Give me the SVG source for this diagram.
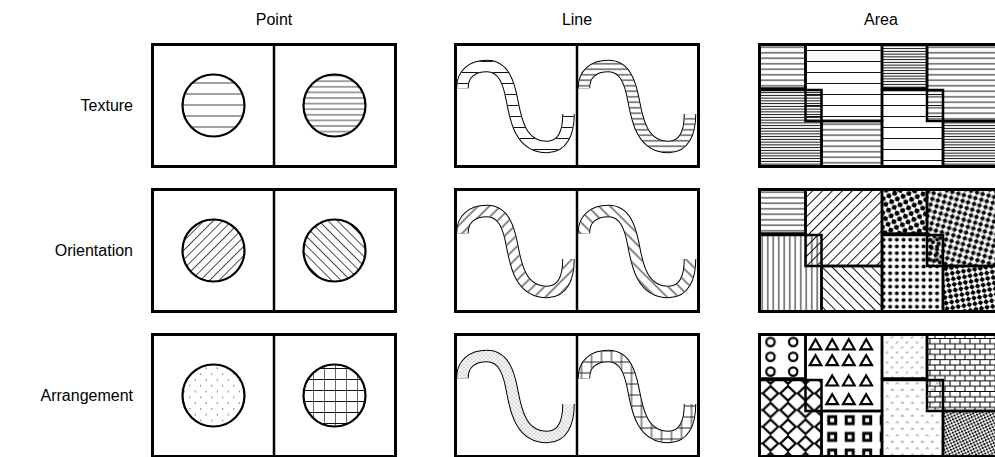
<svg xmlns="http://www.w3.org/2000/svg" width="995" height="457" viewBox="0 0 995 457">
<style>
.lbl{font-family:"Liberation Sans",Arial,Helvetica,sans-serif;font-size:16px;fill:#000}
.col{text-anchor:middle}
.row{text-anchor:end}
.frame{fill:none;stroke:#000;stroke-width:3}
.sep{stroke:#000;stroke-width:2.5}
.pt{stroke:#000;stroke-width:2.2}
.cell{stroke:#000;stroke-width:2.5}
.ro{fill:none;stroke:#000;stroke-width:12.5}
.rw{fill:none;stroke:#fff;stroke-width:10.5}
.rp{fill:none;stroke-width:10.5}
.ln{stroke:#111;stroke-width:1;fill:none}
.lg{stroke:#444;stroke-width:1;fill:none}
</style>
<defs>
<path id="wave" d="M7.5 44C7 29.5 17 21.5 32 21.5C49 21.5 54 39.5 57 55.5C60.5 74 65 102.5 92 102.5C107 102.5 113.5 89 113.5 69.5"/>
<path id="tri" d="M0 -5L5.8 5H-5.8Z" fill="none" stroke="#000" stroke-width="2.2"/>
<pattern id="h11" width="10" height="11" y="0.5" patternUnits="userSpaceOnUse"><path class="ln" d="M0 5.5H10"/></pattern>
<pattern id="h5" width="10" height="5.5" patternUnits="userSpaceOnUse"><path class="ln" d="M0 2.75H10"/></pattern>
<pattern id="h3" width="10" height="2.75" patternUnits="userSpaceOnUse"><path class="ln" d="M0 1.375H10"/></pattern>
<pattern id="h11g" width="10" height="11" y="0.5" patternUnits="userSpaceOnUse"><path class="lg" d="M0 5.5H10"/></pattern>
<pattern id="h5g" width="10" height="5.6" patternUnits="userSpaceOnUse"><path class="lg" d="M0 2.8H10"/></pattern>
<pattern id="v5" width="5.5" height="10" patternUnits="userSpaceOnUse"><path class="ln" d="M2.75 0V10"/></pattern>
<pattern id="dR" width="7" height="7" patternUnits="userSpaceOnUse" patternTransform="rotate(45)"><path class="ln" d="M3.5 0V7"/></pattern>
<pattern id="dL" width="7" height="7" patternUnits="userSpaceOnUse" patternTransform="rotate(-45)"><path class="ln" d="M3.5 0V7"/></pattern>
<pattern id="dRp" width="6.6" height="6.6" patternUnits="userSpaceOnUse" patternTransform="rotate(45)"><path class="lg" d="M3.3 0V6.6"/></pattern>
<pattern id="dLp" width="6.6" height="6.6" patternUnits="userSpaceOnUse" patternTransform="rotate(-45)"><path class="lg" d="M3.3 0V6.6"/></pattern>
<pattern id="dRl" width="8" height="8" patternUnits="userSpaceOnUse" patternTransform="rotate(45)"><path class="ln" d="M4 0V8"/></pattern>
<pattern id="dLl" width="8" height="8" patternUnits="userSpaceOnUse" patternTransform="rotate(-45)"><path class="ln" d="M4 0V8"/></pattern>
<pattern id="dotP" width="11" height="11.6" patternUnits="userSpaceOnUse"><circle cx="2.75" cy="2.9" r="0.7" fill="#555"/><circle cx="8.25" cy="8.7" r="0.7" fill="#555"/></pattern>
<pattern id="dotL" width="4" height="4" patternUnits="userSpaceOnUse"><circle cx="1" cy="1" r="0.55" fill="#333"/><circle cx="3" cy="3" r="0.55" fill="#333"/></pattern>
<pattern id="gridP" width="11" height="11" patternUnits="userSpaceOnUse"><path d="M5.5 0V11" stroke="#555" stroke-width="0.9"/><path d="M0 5.5H11" stroke="#111" stroke-width="1"/></pattern>
<pattern id="gridL" width="10" height="11" patternUnits="userSpaceOnUse"><path d="M0 5.5H10M5 0V11" stroke="#111" stroke-width="0.9" fill="none"/></pattern>
<pattern id="dotsE" width="9" height="9" patternUnits="userSpaceOnUse" patternTransform="rotate(20)"><circle cx="2.25" cy="2.25" r="2.5"/><circle cx="6.75" cy="6.75" r="2.5"/></pattern>
<pattern id="dotsF" width="8.4" height="8.4" patternUnits="userSpaceOnUse" patternTransform="rotate(-30)"><circle cx="2.1" cy="2.1" r="2.4" stroke="#999" stroke-width="1"/><circle cx="6.3" cy="6.3" r="2.4" stroke="#999" stroke-width="1"/></pattern>
<pattern id="dotsG" width="6.7" height="6.7" patternUnits="userSpaceOnUse"><circle cx="3.35" cy="3.35" r="2"/></pattern>
<pattern id="dotsH" width="8" height="8" patternUnits="userSpaceOnUse" patternTransform="rotate(35)"><circle cx="2" cy="2" r="2.3"/><circle cx="6" cy="6" r="2.3"/></pattern>
<pattern id="circA" width="22.7" height="14.8" patternUnits="userSpaceOnUse"><circle cx="11" cy="7.5" r="4.2" fill="none" stroke="#000" stroke-width="2.2"/></pattern>
<pattern id="diamC" x="2.25" y="0.4" width="17.5" height="16.7" patternUnits="userSpaceOnUse"><path d="M8.75 1.1L16.4 8.35L8.75 15.6L1.1 8.35Z" fill="none" stroke="#000" stroke-width="2.2"/></pattern>
<pattern id="sqD" x="63.95" y="77.35" width="17.5" height="16.7" patternUnits="userSpaceOnUse"><rect x="5.25" y="4.85" width="7" height="7" fill="none" stroke="#000" stroke-width="3"/></pattern>
<pattern id="dashE" width="10" height="10" patternUnits="userSpaceOnUse"><path d="M1.5 4l2-2M6.5 9l2-2" stroke="#555" stroke-width="1"/></pattern>
<pattern id="brick" width="10" height="10.6" y="3.5" patternUnits="userSpaceOnUse"><path d="M0 0.5H10M0 5.8H10M0.5 0.5V5.8M5.5 5.8V10.6" stroke="#000" stroke-width="1" fill="none"/></pattern>
<pattern id="chevG" width="10" height="13" patternUnits="userSpaceOnUse"><path d="M1.5 4l1.3-1.3 1.3 1.3M6.5 10.5l1.3-1.3 1.3 1.3" stroke="#555" stroke-width="1" fill="none"/></pattern>
<pattern id="denseH" width="4.2" height="4.2" patternUnits="userSpaceOnUse" patternTransform="rotate(20)"><rect x="0" y="0" width="1.9" height="1.9"/><rect x="2.1" y="2.1" width="1.9" height="1.9"/></pattern>
</defs>
<rect width="995" height="457" fill="#fff"/>

<g id="labels" class="lbl">
<text class="col" x="274" y="25">Point</text>
<text class="col" x="577" y="25">Line</text>
<text class="col" x="881" y="25">Area</text>
<text class="row" x="133" y="111">Texture</text>
<text class="row" x="133" y="256">Orientation</text>
<text class="row" x="133" y="401">Arrangement</text>
</g>

<g id="connectors"></g>

<g id="point-texture">
<rect class="frame" x="152.5" y="44.5" width="243" height="122"/>
<line class="sep" x1="274" y1="44.5" x2="274" y2="166.5"/>
<circle class="pt" cx="213.5" cy="105.5" r="31" fill="url(#h11g)"/>
<circle class="pt" cx="334.5" cy="105.5" r="31" fill="url(#h5g)"/>
</g>
<g id="point-orientation">
<rect class="frame" x="152.5" y="189.5" width="243" height="122"/>
<line class="sep" x1="274" y1="189.5" x2="274" y2="311.5"/>
<circle class="pt" cx="213.5" cy="250.5" r="31" fill="url(#dRp)"/>
<circle class="pt" cx="334.5" cy="250.5" r="31" fill="url(#dLp)"/>
</g>
<g id="point-arrangement">
<rect class="frame" x="152.5" y="334.5" width="243" height="122"/>
<line class="sep" x1="274" y1="334.5" x2="274" y2="456.5"/>
<circle class="pt" cx="213.5" cy="395.5" r="31" fill="url(#dotP)"/>
<circle class="pt" cx="334.5" cy="395.5" r="31" fill="url(#gridP)"/>
</g>

<g id="line-texture">
<rect class="frame" x="455.5" y="44.5" width="243" height="122"/>
<line class="sep" x1="577" y1="44.5" x2="577" y2="166.5"/>
<use href="#wave" transform="translate(455 44.5)" class="ro"/>
<use href="#wave" transform="translate(455 44.5)" class="rw"/>
<use href="#wave" transform="translate(455 44.5)" class="rp" stroke="url(#h11)"/>
<use href="#wave" transform="translate(576.5 44.5)" class="ro"/>
<use href="#wave" transform="translate(576.5 44.5)" class="rw"/>
<use href="#wave" transform="translate(576.5 44.5)" class="rp" stroke="url(#h5)"/>
</g>
<g id="line-orientation">
<rect class="frame" x="455.5" y="189.5" width="243" height="122"/>
<line class="sep" x1="577" y1="189.5" x2="577" y2="311.5"/>
<use href="#wave" transform="translate(455 189.5)" class="ro"/>
<use href="#wave" transform="translate(455 189.5)" class="rw"/>
<use href="#wave" transform="translate(455 189.5)" class="rp" stroke="url(#dRl)"/>
<use href="#wave" transform="translate(576.5 189.5)" class="ro"/>
<use href="#wave" transform="translate(576.5 189.5)" class="rw"/>
<use href="#wave" transform="translate(576.5 189.5)" class="rp" stroke="url(#dLl)"/>
</g>
<g id="line-arrangement">
<rect class="frame" x="455.5" y="334.5" width="243" height="122"/>
<line class="sep" x1="577" y1="334.5" x2="577" y2="456.5"/>
<use href="#wave" transform="translate(455 334.5)" class="ro"/>
<use href="#wave" transform="translate(455 334.5)" class="rw"/>
<use href="#wave" transform="translate(455 334.5)" class="rp" stroke="url(#dotL)"/>
<use href="#wave" transform="translate(576.5 334.5)" class="ro"/>
<use href="#wave" transform="translate(576.5 334.5)" class="rw"/>
<use href="#wave" transform="translate(576.5 334.5)" class="rp" stroke="url(#gridL)"/>
</g>

<g id="area-texture" transform="translate(759.5 44.5)">
<rect class="cell" x="46" y="0" width="76.5" height="76.5" fill="url(#h11)"/>
<rect class="cell" x="0" y="0" width="46" height="44" fill="url(#h5)"/>
<rect class="cell" x="0" y="45.5" width="62" height="76.5" fill="url(#h3)"/>
<rect class="cell" x="62" y="76.5" width="60.5" height="45.5" fill="url(#h5)"/>
<rect class="cell" x="167.5" y="0" width="80" height="76.5" fill="url(#h5)"/>
<rect class="cell" x="122.5" y="0" width="45" height="44" fill="url(#h3)"/>
<rect class="cell" x="122.5" y="45.5" width="61" height="76.5" fill="url(#h11)"/>
<rect class="cell" x="183.5" y="76.5" width="64" height="45.5" fill="url(#h3)"/>
<rect class="frame" x="0" y="0" width="243" height="122"/>
</g>
<g id="area-orientation" transform="translate(759.5 189.5)">
<rect class="cell" x="46" y="0" width="76.5" height="76.5" fill="url(#dR)"/>
<rect class="cell" x="0" y="0" width="46" height="44" fill="url(#h5)"/>
<rect class="cell" x="0" y="45.5" width="62" height="76.5" fill="url(#v5)"/>
<rect class="cell" x="62" y="76.5" width="60.5" height="45.5" fill="url(#dL)"/>
<rect class="cell" x="167.5" y="0" width="80" height="76.5" fill="url(#dotsF)"/>
<rect class="cell" x="122.5" y="0" width="45" height="44" fill="url(#dotsE)"/>
<rect class="cell" x="122.5" y="45.5" width="61" height="76.5" fill="url(#dotsG)"/>
<rect class="cell" x="183.5" y="76.5" width="64" height="45.5" fill="url(#dotsH)"/>
<rect class="frame" x="0" y="0" width="243" height="122"/>
</g>
<g id="area-arrangement" transform="translate(759.5 334.5)">
<rect class="cell" x="46" y="0" width="76.5" height="76.5" fill="#fff"/>
<use href="#tri" x="56" y="9.8"/><use href="#tri" x="72.7" y="9.8"/><use href="#tri" x="89.3" y="9.8"/><use href="#tri" x="106.7" y="9.8"/>
<use href="#tri" x="56" y="25.7"/><use href="#tri" x="72.7" y="25.7"/><use href="#tri" x="89.3" y="25.7"/><use href="#tri" x="106.7" y="25.7"/>
<use href="#tri" x="72.7" y="46"/><use href="#tri" x="89.3" y="46"/><use href="#tri" x="106.7" y="46"/>
<use href="#tri" x="72.7" y="64.7"/><use href="#tri" x="89.3" y="64.7"/><use href="#tri" x="106.7" y="64.7"/>
<rect class="cell" x="0" y="0" width="46" height="44" fill="url(#circA)"/>
<rect class="cell" x="0" y="45.5" width="62" height="76.5" fill="url(#diamC)"/>
<rect class="cell" x="62" y="76.5" width="60.5" height="45.5" fill="url(#sqD)"/>
<rect class="cell" x="167.5" y="0" width="80" height="76.5" fill="url(#brick)"/>
<rect class="cell" x="122.5" y="0" width="45" height="44" fill="url(#dashE)"/>
<rect class="cell" x="122.5" y="45.5" width="61" height="76.5" fill="url(#chevG)"/>
<rect class="cell" x="183.5" y="76.5" width="64" height="45.5" fill="url(#denseH)"/>
<rect class="frame" x="0" y="0" width="243" height="122"/>
</g>
</svg>
